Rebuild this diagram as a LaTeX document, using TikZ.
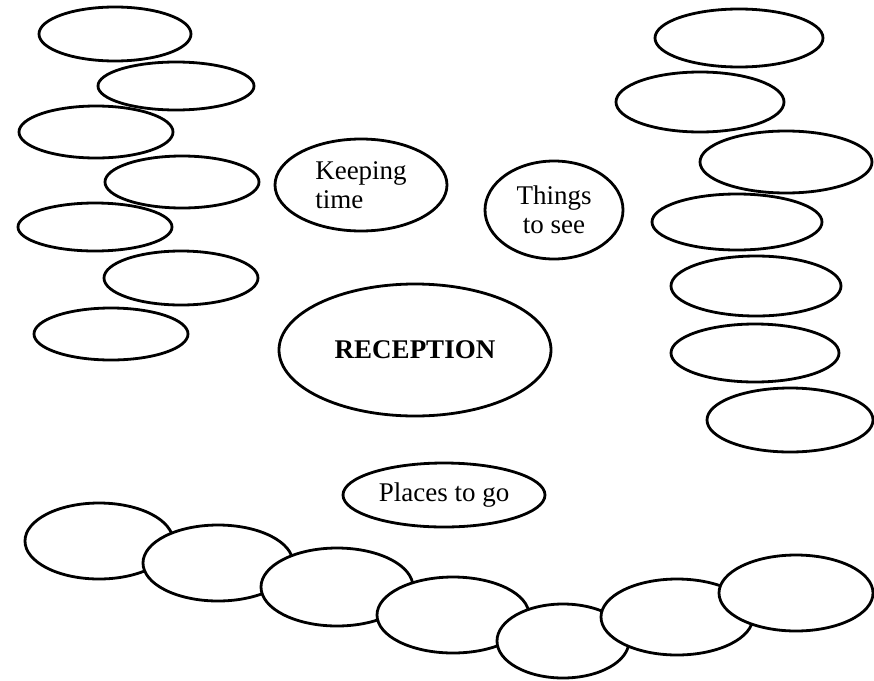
\documentclass[tikz,border=0pt]{standalone}
\usepackage{fontspec}
\setmainfont{Liberation Serif}
\usetikzlibrary{shapes.geometric}
\begin{document}
\begin{tikzpicture}[x=1pt,y=-1pt,
  oval/.style={ellipse, draw=black, line width=2.8pt, inner sep=0pt, outer sep=0pt,
    font=\fontsize{27}{29}\selectfont},
  sz/.style 2 args={minimum width=#1pt, minimum height=#2pt},
  linked/.style={oval, fill=white}]
\useasboundingbox (0,0) rectangle (874,680);
% left column
\node[oval, sz={152}{54}] (l1) at (115,34) {};
\node[oval, sz={156}{48}] (l2) at (176,86) {};
\node[oval, sz={154}{52}] (l3) at (96,132) {};
\node[oval, sz={154}{52}] (l4) at (182,182) {};
\node[oval, sz={154}{48}] (l5) at (95,227) {};
\node[oval, sz={154}{54}] (l6) at (181,278) {};
\node[oval, sz={154}{52}] (l7) at (111,334) {};
% right column
\node[oval, sz={168}{58}] (r1) at (739,38) {};
\node[oval, sz={168}{60}] (r2) at (700,102) {};
\node[oval, sz={172}{62}] (r3) at (786,162) {};
\node[oval, sz={170}{56}] (r4) at (737,222) {};
\node[oval, sz={170}{60}] (r5) at (756,286) {};
\node[oval, sz={168}{58}] (r6) at (755,353) {};
\node[oval, sz={166}{64}] (r7) at (790,420) {};
% centre
\node[oval, sz={172}{92}, align=left] (keep) at (361,185) {Keeping\\time};
\node[oval, sz={138}{98}, align=center] (see) at (554,210) {Things\\to see};
\node[oval, sz={272}{132}] (rec) at (415,350) {\textbf{RECEPTION}};
\node[oval, sz={202}{64}] (go) at (444,495) {Places to go};
% bottom chain
\node[linked, sz={148}{76}] (b1) at (99,541) {};
\node[linked, sz={150}{76}] (b2) at (218,563) {};
\node[linked, sz={152}{78}] (b3) at (337,587) {};
\node[linked, sz={152}{76}] (b4) at (453,615) {};
\node[linked, sz={132}{74}] (b5) at (563,641) {};
\node[linked, sz={152}{76}] (b6) at (677,617) {};
\node[linked, sz={154}{76}] (b7) at (796,593) {};
\end{tikzpicture}
\end{document}
